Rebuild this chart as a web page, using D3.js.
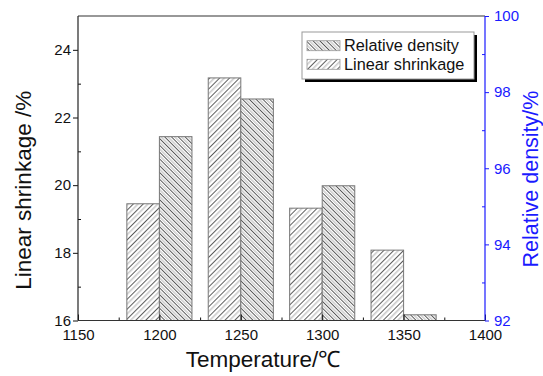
<!DOCTYPE html>
<html>
<head>
<meta charset="utf-8">
<script src="https://cdn.jsdelivr.net/npm/d3@7"></script>
<style>
  html, body { margin: 0; padding: 0; background: #fff; }
  svg { display: block; font-family: Arial, "Liberation Sans", sans-serif; }
</style>
</head>
<body>
<svg id="chart" width="543" height="376"></svg>
<script>
// ---- data ----
const temperatures = [1200, 1250, 1300, 1350];
const linearShrinkage = [19.45, 23.17, 19.32, 18.08];   // left axis, %
const relativeDensity = [96.83, 97.82, 95.54, 92.15];   // right axis, %
const xTicks = [1150, 1200, 1250, 1300, 1350, 1400];
const leftTicks = [16, 18, 20, 22, 24];
const rightTicks = [92, 94, 96, 98, 100];
const legendLabels = ["Relative density", "Linear shrinkage"];

// ---- layout ----
const svg = d3.select("#chart");
const L = 78, R = 485, T = 16, B = 320.5;
const barHalf = 20;

const x = d3.scaleLinear().domain([1150, 1400]).range([L, R]);
const yL = d3.scaleLinear().domain([16, 25]).range([B, T]);
const yR = d3.scaleLinear().domain([92, 100]).range([B, T]);

// ---- patterns ----
const defs = svg.append("defs");
function hatch(id, period, angle) {
  const p = defs.append("pattern")
    .attr("id", id)
    .attr("patternUnits", "userSpaceOnUse")
    .attr("width", period * 2)
    .attr("height", 10)
    .attr("patternTransform", `rotate(${angle})`);
  p.append("rect").attr("width", period * 2).attr("height", 10).attr("fill", "#fff");
  p.append("rect").attr("x", 0).attr("width", 0.8).attr("height", 10).attr("fill", "#333");
  p.append("rect").attr("x", period).attr("width", 0.8).attr("height", 10).attr("fill", "#999");
}
hatch("hatchLS", 3.5, 45);   // "////"
hatch("hatchRD", 2.4, -45);  // "\\\\"

// ---- bars ----
const g = svg.append("g");
g.selectAll("rect.ls").data(temperatures).join("rect")
  .attr("class", "ls")
  .attr("x", d => x(d - barHalf))
  .attr("width", d => x(d) - x(d - barHalf))
  .attr("y", (d, i) => yL(linearShrinkage[i]))
  .attr("height", (d, i) => B - yL(linearShrinkage[i]))
  .attr("fill", "url(#hatchLS)")
  .attr("stroke", "#777")
  .attr("stroke-width", 1);

g.selectAll("rect.rd").data(temperatures).join("rect")
  .attr("class", "rd")
  .attr("x", d => x(d))
  .attr("width", d => x(d + barHalf) - x(d))
  .attr("y", (d, i) => yR(relativeDensity[i]))
  .attr("height", (d, i) => B - yR(relativeDensity[i]))
  .attr("fill", "url(#hatchRD)")
  .attr("stroke", "#777")
  .attr("stroke-width", 1);

// ---- axes ----
const fontTick = "15px";
function styleAxis(sel, color) {
  sel.select(".domain").remove();
  sel.selectAll("line").attr("stroke", color).attr("stroke-width", 1);
  sel.selectAll("text").attr("fill", color).style("font-size", fontTick)
     .style("font-family", "Arial, 'Liberation Sans', sans-serif");
}

// bottom
svg.append("g").attr("transform", `translate(0,${B})`)
  .call(d3.axisBottom(x).tickValues(xTicks).tickSize(-6).tickPadding(9).tickFormat(d3.format("d")))
  .call(s => styleAxis(s, "#111"));
svg.append("g").attr("transform", `translate(0,${B})`)
  .call(d3.axisBottom(x).tickValues(d3.range(1175, 1400, 50)).tickSize(-3).tickFormat(""))
  .call(s => styleAxis(s, "#111"));

// left
svg.append("g").attr("transform", `translate(${L},0)`)
  .call(d3.axisLeft(yL).tickValues(leftTicks).tickSize(5).tickPadding(2).tickFormat(d3.format("d")))
  .call(s => styleAxis(s, "#111"));
svg.append("g").attr("transform", `translate(${L},0)`)
  .call(d3.axisLeft(yL).tickValues([17, 19, 21, 23]).tickSize(-3).tickFormat(""))
  .call(s => styleAxis(s, "#111"));

// right
svg.append("g").attr("transform", `translate(${R},0)`)
  .call(d3.axisRight(yR).tickValues(rightTicks).tickSize(4).tickPadding(5).tickFormat(d3.format("d")))
  .call(s => styleAxis(s, "#1a1aff"));
svg.append("g").attr("transform", `translate(${R},0)`)
  .call(d3.axisRight(yR).tickValues([93, 95, 97, 99]).tickSize(-3).tickFormat(""))
  .call(s => styleAxis(s, "#1a1aff"));

// frame lines
svg.append("line").attr("x1", L).attr("x2", R).attr("y1", T).attr("y2", T).attr("stroke", "#333").attr("stroke-width", 1.2);
svg.append("line").attr("x1", L).attr("x2", R).attr("y1", B).attr("y2", B).attr("stroke", "#333").attr("stroke-width", 1.2);
svg.append("line").attr("x1", L).attr("x2", L).attr("y1", T).attr("y2", B).attr("stroke", "#222").attr("stroke-width", 1.2);
svg.append("line").attr("x1", R).attr("x2", R).attr("y1", T).attr("y2", B).attr("stroke", "#1a1aff").attr("stroke-width", 1.2);

// ---- axis titles ----
svg.append("text")
  .attr("x", 263).attr("y", 367)
  .attr("text-anchor", "middle")
  .style("font-size", "22.5px").attr("fill", "#111")
  .text("Temperature/℃");

svg.append("text")
  .attr("transform", `translate(31,${(T + B) / 2 + 22}) rotate(-90)`)
  .attr("text-anchor", "middle")
  .style("font-size", "22.5px").attr("fill", "#111")
  .text("Linear shrinkage /%");

svg.append("text")
  .attr("transform", `translate(537.5,${179}) rotate(-90)`)
  .attr("text-anchor", "middle")
  .style("font-size", "21.5px").attr("fill", "#1a1aff")
  .text("Relative density/%");

// ---- legend ----
const lg = svg.append("g");
lg.append("rect").attr("x", 305).attr("y", 35).attr("width", 172).attr("height", 47).attr("fill", "#000");
lg.append("rect").attr("x", 302).attr("y", 32).attr("width", 172).attr("height", 47)
  .attr("fill", "#fff").attr("stroke", "#999").attr("stroke-width", 1);
const fills = ["url(#hatchRD)", "url(#hatchLS)"];
legendLabels.forEach((lab, i) => {
  const cy = 45.7 + i * 18.6;
  lg.append("rect").attr("x", 307).attr("y", cy - 5).attr("width", 33).attr("height", 10)
    .attr("fill", fills[i]).attr("stroke", "#999").attr("stroke-width", 0.8);
  lg.append("text").attr("x", 344).attr("y", cy + 5.5)
    .style("font-size", "16.3px").attr("fill", "#111")
    .text(lab);
});
</script>
</body>
</html>
